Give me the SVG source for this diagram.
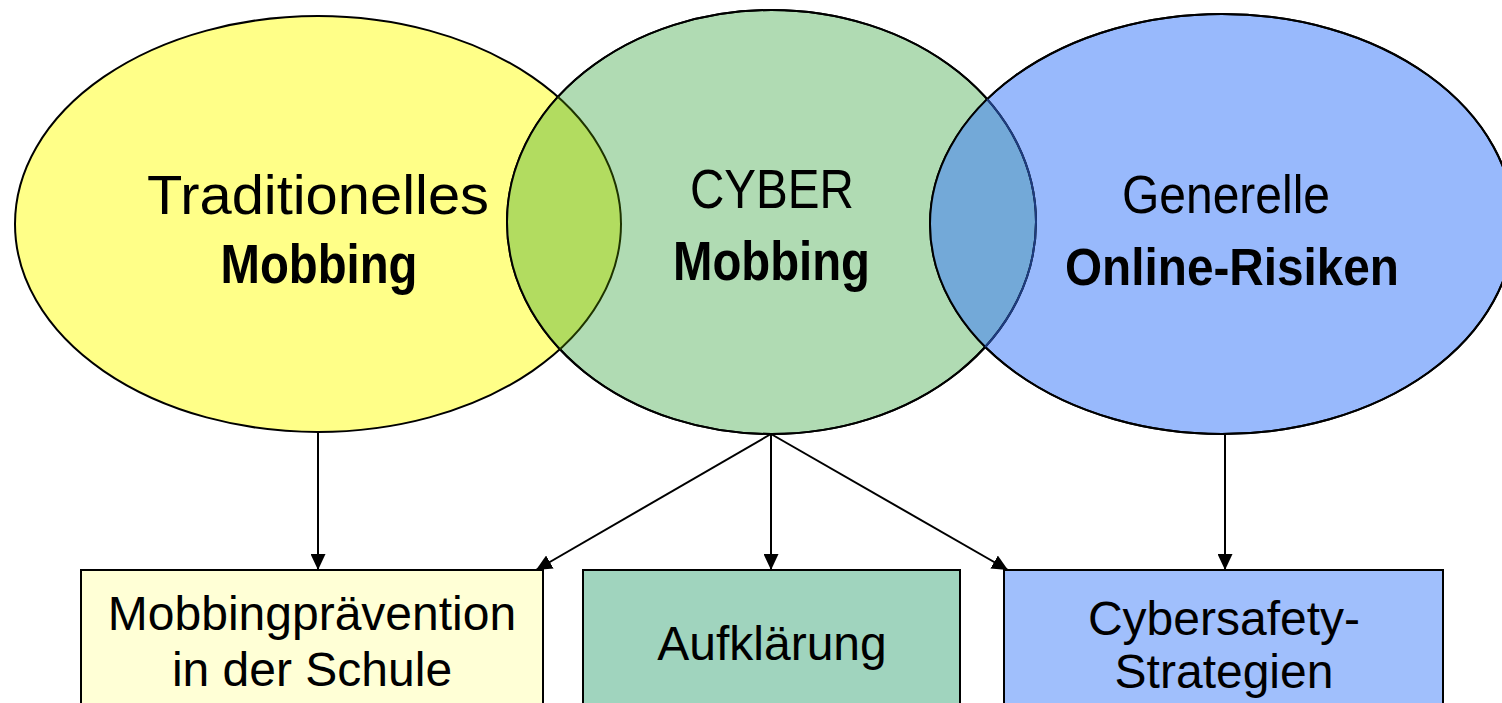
<svg xmlns="http://www.w3.org/2000/svg" width="1502" height="703" viewBox="0 0 1502 703">
<style>
  .t { font-family: "Liberation Sans", Arial, sans-serif; fill: #000; text-anchor: middle; }
  .b { font-weight: bold; }
  .ell { stroke: #000; stroke-width: 2; }
  .box { stroke: #000; stroke-width: 2; }
  .conn { stroke: #000; stroke-width: 2; fill: none; marker-end: url(#arr); }
</style>
<defs>
  <marker id="arr" viewBox="0 0 16 15" refX="16" refY="7.5" markerWidth="16" markerHeight="15" markerUnits="userSpaceOnUse" orient="auto">
    <path d="M0,0 L16,7.5 L0,15 Z" fill="#000"/>
  </marker>
  <clipPath id="clipGreen"><ellipse cx="771.5" cy="222" rx="264.5" ry="212"/></clipPath>
  <clipPath id="clipBlue"><ellipse cx="1222" cy="224" rx="292" ry="210"/></clipPath>
</defs>
<rect width="1502" height="703" fill="#fff"/>

<g id="node-traditionell">
  <ellipse class="ell" cx="318" cy="224" rx="303" ry="208" fill="#ffff88"/>
</g>
<g id="node-cyber">
  <ellipse class="ell" cx="771.5" cy="222" rx="264.5" ry="212" fill="#b0dbb3"/>
</g>
<g id="node-online">
  <ellipse class="ell" cx="1222" cy="224" rx="292" ry="210" fill="#98b9fc"/>
</g>
<g id="overlaps">
  <ellipse cx="318" cy="224" rx="303" ry="208" fill="#b2dc60" clip-path="url(#clipGreen)"/>
  <ellipse cx="1222" cy="224" rx="292" ry="210" fill="#73a9d8" clip-path="url(#clipGreen)"/>
  <ellipse cx="771.5" cy="222" rx="264.5" ry="212" fill="none" stroke="#000" stroke-width="2"/>
  <ellipse cx="318" cy="224" rx="303" ry="208" fill="none" stroke="#1e3300" stroke-width="2" clip-path="url(#clipGreen)"/>
  <ellipse cx="1222" cy="224" rx="292" ry="210" fill="none" stroke="#000" stroke-width="2"/>
  <ellipse cx="771.5" cy="222" rx="264.5" ry="212" fill="none" stroke="#1d3c80" stroke-width="2" clip-path="url(#clipBlue)"/>
</g>
<g id="labels-top">
  <text class="t" x="318" y="214" font-size="56" textLength="342" lengthAdjust="spacingAndGlyphs">Traditionelles</text>
  <text class="t b" x="319" y="283" font-size="55" textLength="197" lengthAdjust="spacingAndGlyphs">Mobbing</text>
  <text class="t" x="772" y="208" font-size="55" textLength="164" lengthAdjust="spacingAndGlyphs">CYBER</text>
  <text class="t b" x="771.5" y="280" font-size="55" textLength="197" lengthAdjust="spacingAndGlyphs">Mobbing</text>
  <text class="t" x="1226" y="213" font-size="53" textLength="208" lengthAdjust="spacingAndGlyphs">Generelle</text>
  <text class="t b" x="1232" y="285" font-size="51" textLength="334" lengthAdjust="spacingAndGlyphs">Online-Risiken</text>
</g>

<g id="connectors">
  <line class="conn" x1="318" y1="432" x2="318" y2="570"/>
  <line class="conn" x1="771" y1="434" x2="771" y2="570"/>
  <line class="conn" x1="771" y1="434" x2="536" y2="570"/>
  <line class="conn" x1="771" y1="434" x2="1008" y2="570"/>
  <line class="conn" x1="1225" y1="434" x2="1225" y2="570"/>
</g>

<g id="box-mobbingpraevention">
  <rect class="box" x="81" y="570" width="462" height="150" fill="#ffffd6"/>
  <text class="t" x="312" y="630" font-size="48">Mobbingprävention</text>
  <text class="t" x="312" y="686" font-size="48">in der Schule</text>
</g>
<g id="box-aufklaerung">
  <rect class="box" x="583" y="570" width="377" height="150" fill="#a0d4be"/>
  <text class="t" x="772" y="660" font-size="48">Aufklärung</text>
</g>
<g id="box-cybersafety">
  <rect class="box" x="1004" y="570" width="439" height="150" fill="#a0bffc"/>
  <text class="t" x="1224" y="635" font-size="48">Cybersafety-</text>
  <text class="t" x="1224" y="688" font-size="48">Strategien</text>
</g>
</svg>
